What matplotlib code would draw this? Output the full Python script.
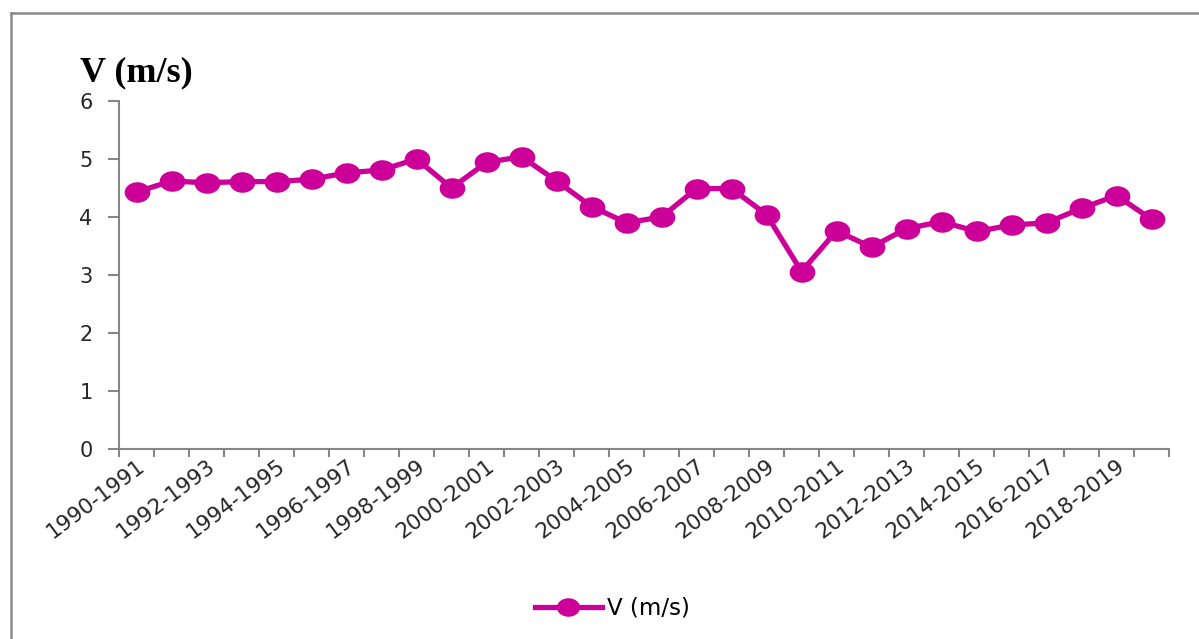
import numpy as np
import matplotlib
matplotlib.use('Agg')
import matplotlib.pyplot as plt
from matplotlib.path import Path
from matplotlib.transforms import Affine2D
from matplotlib.lines import Line2D

# period labels, one per hydrological year
anos_inicio = list(range(1990, 2020))
periodos = [f"{a}-{a + 1}" for a in anos_inicio]

# mean wind speed (m/s)
velocidade = [4.43, 4.62, 4.59, 4.61, 4.61, 4.65, 4.76, 4.81, 5.00, 4.50,
              4.94, 5.04, 4.62, 4.18, 3.90, 4.00, 4.49, 4.49, 4.04, 3.06,
              3.76, 3.48, 3.80, 3.92, 3.75, 3.86, 3.90, 4.15, 4.37, 3.96]

y_ticks = [0, 1, 2, 3, 4, 5, 6]
nome_serie = 'V (m/s)'

COR = '#CC0099'
CINZA = '#868686'

# slightly wide marker (the original picture is stretched horizontally)
marcador = Path.unit_circle().transformed(Affine2D().scale(1.25, 1.0))

fig = plt.figure(figsize=(11.99, 6.39), dpi=100)
ax = fig.add_axes([0.0993, 0.2973, 0.8757, 0.5447])

x = np.arange(len(periodos))
ax.plot(x, velocidade, color=COR, lw=3.8, marker=marcador, ms=18.5,
        markeredgewidth=0, label=nome_serie)

ax.set_xlim(-0.5, len(periodos) - 0.5)
ax.set_ylim(0, 6)
ax.set_yticks(y_ticks)
ax.set_yticklabels([str(v) for v in y_ticks], fontsize=15, color='#262626')

# ticks between categories, labels on every other category
ax.set_xticks(np.arange(-0.5, len(periodos)), labels=[])
ax.set_xticks(x[::2], labels=[periodos[i] for i in x[::2]], minor=True)
ax.tick_params(axis='x', which='major', length=6, width=1.5, color=CINZA)
ax.tick_params(axis='x', which='minor', length=0, pad=5)
ax.tick_params(axis='y', length=8, width=1.5, color=CINZA, pad=11)
for lab in ax.get_xticklabels(minor=True):
    lab.set_rotation(37)
    lab.set_rotation_mode('anchor')
    lab.set_ha('right')
    lab.set_va('top')
    lab.set_fontsize(15.5)
    lab.set_color('#262626')

for lado in ['top', 'right']:
    ax.spines[lado].set_visible(False)
for lado in ['left', 'bottom']:
    ax.spines[lado].set_color(CINZA)
    ax.spines[lado].set_linewidth(1.5)

fig.text(0.0667, 0.873, nome_serie, fontsize=26, fontweight='bold',
         family='Liberation Serif', ha='left', va='baseline')

ax.legend(loc='center', bbox_to_anchor=(0.511, 0.048),
          bbox_transform=fig.transFigure, frameon=False, fontsize=16.5,
          handlelength=2.9, handletextpad=0.25, markerscale=0.9)

# chart area frame (only left and top edges show in the crop)
fig.add_artist(Line2D([0.0092, 0.0092], [0, 0.9797], color='#8a8a8a', lw=1.8,
                      transform=fig.transFigure))
fig.add_artist(Line2D([0.0092, 1.0], [0.9797, 0.9797], color='#8a8a8a', lw=1.8,
                      transform=fig.transFigure))

fig.savefig('out.png', dpi=100)
